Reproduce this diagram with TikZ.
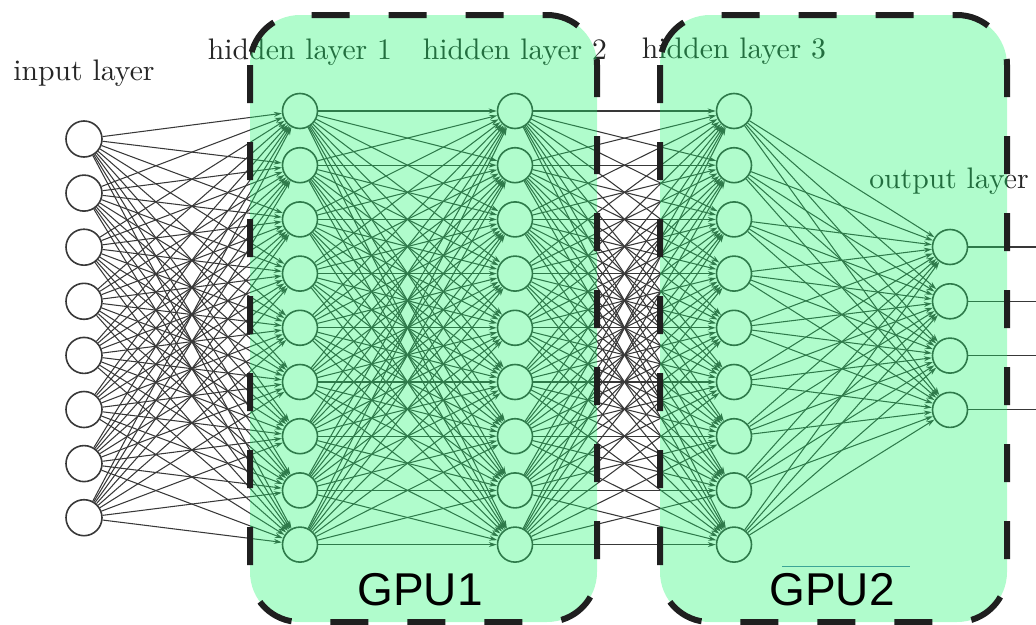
\documentclass[tikz,border=0pt]{standalone}
\usepackage{fontspec}
\newfontfamily\gpufont{Liberation Sans}
\usetikzlibrary{arrows.meta}
\definecolor{boxgreen}{RGB}{29,247,110}
\definecolor{strayteal}{RGB}{60,165,150}
\begin{document}
\begin{tikzpicture}[x=1pt,y=-1pt,
  neuron/.style={circle,draw=black!78,line width=1.6pt,fill=white,minimum size=35pt,inner sep=0pt},
  edge/.style={draw=black!78,line width=1.05pt,-{Stealth[length=8pt,width=5pt]}},
  lbl/.style={text=black!85,inner sep=0pt,anchor=base},
  gpubox/.style={rounded corners=50pt,fill=boxgreen,fill opacity=0.35},
  gpuborder/.style={rounded corners=50pt,draw=black!88,line width=6pt,dash pattern=on 38pt off 39pt},
  gpulbl/.style={font=\gpufont\fontsize{46}{50}\selectfont,text=black,inner sep=0pt,anchor=base}]
\useasboundingbox (0,0) rectangle (1036,624);
% neurons
\foreach \i in {1,...,8} \node[neuron,minimum size=36pt] (I\i) at (84,{139+54.1*(\i-1)}) {};
\foreach \i in {1,...,9} {
  \node[neuron] (Ha\i) at (300,{111+54.2*(\i-1)}) {};
  \node[neuron] (Hb\i) at (515,{111+54.2*(\i-1)}) {};
  \node[neuron] (Hc\i) at (734,{111+54.2*(\i-1)}) {};
}
\foreach \i in {1,...,4} {
  \node[neuron] (O\i) at (950,{247+54.3*(\i-1)}) {};
  \coordinate (E\i) at (1060,{247+54.3*(\i-1)});
}
% connections
\foreach \i in {1,...,8} \foreach \j in {1,...,9} \draw[edge] (I\i) -- (Ha\j);
\foreach \i in {1,...,9} \foreach \j in {1,...,9} {
  \draw[edge] (Ha\i) -- (Hb\j);
  \draw[edge] (Hb\i) -- (Hc\j);
}
\foreach \i in {1,...,9} \foreach \j in {1,...,4} \draw[edge] (Hc\i) -- (O\j);
\foreach \i in {1,...,4} \draw[edge] (O\i) -- (E\i);
% layer labels
\node[lbl] (Lin) at (84,80) {\scalebox{2.97}{input layer}};
\node[lbl] (Lh1) at (300,59) {\scalebox{2.97}{hidden layer 1}};
\node[lbl] (Lh2) at (515,59) {\scalebox{2.97}{hidden layer 2}};
\node[lbl] (Lh3) at (734,58) {\scalebox{2.97}{hidden layer 3}};
\node[lbl] (Lout) at (949,188) {\scalebox{2.97}{output layer}};
% GPU boxes
\fill[gpubox] (250,15) rectangle (597,622);
\fill[gpubox] (660,15) rectangle (1007,622);
\draw[gpuborder] (250,15) rectangle (597,622);
\draw[gpuborder] (660,15) rectangle (1007,622);
\draw[strayteal,line width=1pt] (782,566) -- (910,566);
\node[gpulbl] (G1) at (420,605) {GPU1};
\node[gpulbl] (G2) at (832,605) {GPU2};
\end{tikzpicture}
\end{document}
